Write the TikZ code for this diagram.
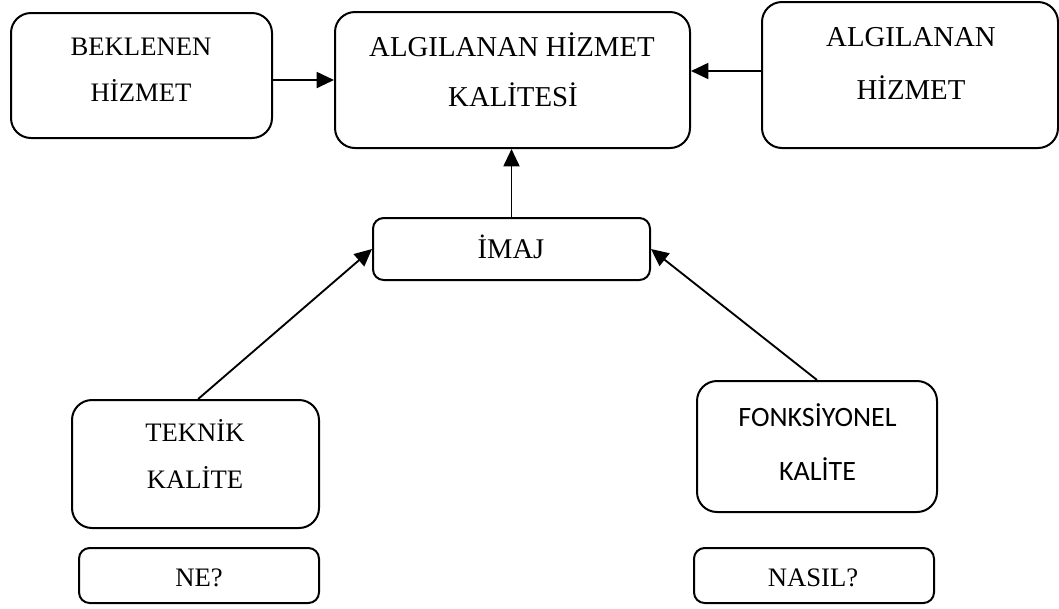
\documentclass[tikz,border=0pt]{standalone}
\usepackage{fontspec}
\setmainfont{Liberation Serif}
\newfontfamily\calfont{Carlito}
\usetikzlibrary{arrows.meta}
\begin{document}
\begin{tikzpicture}[x=0.75pt,y=-0.75pt,
  bigbox/.style={draw,line width=1.5pt,rounded corners=15pt,inner sep=0pt},
  smallbox/.style={draw,line width=1.5pt,rounded corners=8pt,inner sep=0pt},
  lbl/.style={anchor=base,inner sep=0pt},
  arr/.style={line width=1.4pt,-{Triangle[length=13pt,width=12pt]}}]
\useasboundingbox (0,0) rectangle (1059,608);

% boxes
\node[bigbox,minimum width=195.75pt,minimum height=93.75pt] (bek) at (141.5,75.5) {};
\node[bigbox,minimum width=266.25pt,minimum height=102pt] (kal) at (512.5,80) {};
\node[bigbox,minimum width=222pt,minimum height=109.5pt] (alg) at (910,75) {};
\node[smallbox,minimum width=207.75pt,minimum height=46.5pt] (imaj) at (511.5,249) {};
\node[bigbox,minimum width=185.25pt,minimum height=96pt] (tek) at (195.5,464) {};
\node[smallbox,minimum width=180pt,minimum height=41.25pt] (ne) at (199,575.5) {};
\node[bigbox,minimum width=180pt,minimum height=98.25pt] (fonk) at (817,446.5) {};
\node[smallbox,minimum width=180pt,minimum height=41.25pt] (nasil) at (814,575.5) {};

% labels
\node[lbl,font=\fontsize{20pt}{24pt}\selectfont] (bek1) at (141,55) {BEKLENEN};
\node[lbl,font=\fontsize{20pt}{24pt}\selectfont] (bek2) at (141,101.7) {HİZMET};
\node[lbl,font=\fontsize{21.6pt}{26pt}\selectfont] (kal1) at (512,56.7) {ALGILANAN HİZMET};
\node[lbl,font=\fontsize{21.6pt}{26pt}\selectfont] (kal2) at (513,106.7) {KALİTESİ};
\node[lbl,font=\fontsize{21.6pt}{26pt}\selectfont] (alg1) at (911,46.7) {ALGILANAN};
\node[lbl,font=\fontsize{21.6pt}{26pt}\selectfont] (alg2) at (911,99.3) {HİZMET};
\node[lbl,font=\fontsize{21.4pt}{26pt}\selectfont] (imaj1) at (511,258.3) {İMAJ};
\node[lbl,font=\fontsize{20pt}{24pt}\selectfont] (tek1) at (195,441.7) {TEKNİK};
\node[lbl,font=\fontsize{20pt}{24pt}\selectfont] (tek2) at (195,488.3) {KALİTE};
\node[lbl,font=\fontsize{20pt}{24pt}\selectfont] (ne1) at (199,586) {NE?};
\node[lbl,font=\calfont\fontsize{21pt}{26pt}\selectfont] (fonk1) at (817.5,426.7) {FONKSİYONEL};
\node[lbl,font=\calfont\fontsize{21pt}{26pt}\selectfont] (fonk2) at (817.5,480) {KALİTE};
\node[lbl,font=\fontsize{20pt}{24pt}\selectfont] (nasil1) at (813,586) {NASIL?};

% connectors
\draw[arr] ([yshift=-3.4pt]bek.east) -- (kal.west);
\draw[arr] ([yshift=3pt]alg.west) -- ([yshift=6.75pt]kal.east);
\draw[arr] (imaj.north) -- (imaj.north |- kal.south);
\draw[arr] ([xshift=2pt]tek.north) -- (imaj.west);
\draw[arr] (fonk.north) -- (imaj.east);
\end{tikzpicture}
\end{document}
